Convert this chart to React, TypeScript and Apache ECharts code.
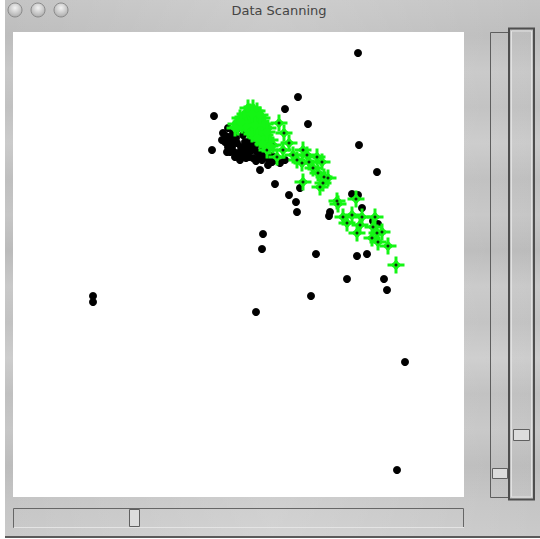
import React, { useEffect, useRef } from "react";
import * as echarts from "echarts";

const PLOT_LEFT = 13;
const PLOT_TOP = 32;
const PLOT_W = 451;
const PLOT_H = 465;

// black points (screen px)
const blackPointsPx: number[][] = [
  [358, 53], [298, 97], [285, 109], [214, 116], [308, 124], [212, 150], [359, 145], [377, 172],
  [223, 133], [225, 142], [230, 137], [233, 132], [222, 140], [227, 152], [232, 147], [237, 143],
  [240, 152], [235, 157], [243, 157], [248, 153], [247, 147], [252, 150], [253, 158], [260, 170],
  [263, 153], [267, 158], [272, 162], [262, 160], [268, 165], [280, 163], [285, 160], [230, 152],
  [246, 158], [240, 160], [256, 161], [238, 128], [243, 135], [250, 140], [256, 145], [228, 128],
  [226, 136], [231, 142], [236, 138], [241, 147], [245, 142], [251, 145], [257, 152], [244, 151],
  [228, 147], [234, 152], [239, 156], [249, 157], [259, 157], [263, 147], [272, 156], [276, 160],
  [275, 184], [289, 195], [296, 202], [297, 212], [300, 188],
  [263, 234], [262, 249], [316, 254], [330, 212], [329, 216], [352, 194], [358, 195], [362, 208],
  [373, 221], [378, 224], [357, 256], [367, 254], [347, 279], [384, 279], [387, 290], [311, 296],
  [256, 312], [93, 296], [93, 302], [405, 362], [397, 470],
];

// dense green cluster (screen px)
const greenBlobPx: number[][] = [
  [240, 118], [245, 114], [250, 112], [253, 108], [256, 116], [250, 122], [242, 125], [258, 122],
  [262, 128], [255, 130], [248, 130], [236, 124], [265, 135], [260, 140], [270, 140], [247, 119],
  [262, 118], [268, 128], [244, 121], [252, 126], [259, 134], [254, 119], [238, 127], [265, 124],
  [250, 116], [257, 111], [246, 126], [252, 134], [263, 144], [241, 122], [255, 125], [260, 115],
  [248, 108], [267, 132], [257, 138], [235, 128], [252, 114], [270, 146],
];

// spread green points (screen px)
const greenSpreadPx: number[][] = [
  [279, 123], [284, 133], [289, 143], [273, 145], [267, 150], [277, 157], [303, 150], [307, 155],
  [297, 160], [302, 163], [317, 157], [313, 168], [318, 173], [324, 177], [303, 182], [320, 187],
  [328, 178], [322, 162], [337, 201], [338, 204], [356, 199], [343, 217], [352, 215], [362, 217],
  [357, 233], [347, 223], [373, 227], [377, 233], [382, 232], [372, 238], [378, 242], [388, 246],
  [396, 265], [323, 183], [360, 225], [375, 217], [283, 150], [293, 155], [309, 162],
];

const toData = (p: number[]) => [p[0] - PLOT_LEFT, PLOT_TOP + PLOT_H - p[1]];
const blackData = blackPointsPx.map(toData);
const greenBlobData = greenBlobPx.map(toData);
const greenSpreadData = greenSpreadPx.map(toData);

const STAR =
  "path://M-1.4,-8H1.4V-4L4,0L1.4,4V8H-1.4V4L-4,0L-1.4,-4ZM-8,-1.4H-4L0,-4L4,-1.4H8V1.4H4L0,4L-4,1.4H-8Z";

const metalShades = [
  "#c4c4c4", "#bdbdbd", "#c8c8c8", "#c1c1c1", "#cbcbcb", "#bfbfbf", "#c6c6c6", "#bbbbbb",
  "#c9c9c9", "#c2c2c2", "#cdcdcd", "#c0c0c0", "#c7c7c7", "#bcbcbc", "#c5c5c5", "#cacaca",
];

export default function App() {
  const ref = useRef<HTMLDivElement>(null);
  useEffect(() => {
    if (!ref.current) return;
    const chart = echarts.init(ref.current, null, { renderer: "svg" });
    const stops = metalShades.map((c, i) => ({ offset: i / (metalShades.length - 1), color: c }));
    const metal = new echarts.graphic.LinearGradient(0, 0, 0, 1, stops);
    const metalH = new echarts.graphic.LinearGradient(0, 0, 1, 0, [
      { offset: 0, color: "rgba(255,255,255,0)" },
      { offset: 0.5, color: "rgba(255,255,255,0.18)" },
      { offset: 1, color: "rgba(255,255,255,0)" },
    ]);
    const btn = (cx: number) => ({
      type: "circle",
      shape: { cx, cy: 10, r: 7 },
      style: {
        fill: new echarts.graphic.RadialGradient(0.5, 0.35, 0.7, [
          { offset: 0, color: "#f2f2f2" },
          { offset: 1, color: "#a8a8a8" },
        ]),
        stroke: "#8a8a8a",
        lineWidth: 1,
      },
    });
    const greenStyle = { color: "#14f514", opacity: 1 };
    chart.setOption({
      animation: false,
      graphic: [
        { type: "rect", shape: { x: 5, y: 0, width: 535, height: 537 }, style: { fill: metal }, z: -10 },
        { type: "rect", shape: { x: 5, y: 0, width: 535, height: 537 }, style: { fill: metalH }, z: -9 },
        { type: "line", shape: { x1: 5, y1: 537, x2: 540, y2: 537 }, style: { stroke: "#5a5a5a", lineWidth: 2 }, z: -8 },
        btn(15), btn(38), btn(61),
        {
          type: "text",
          x: 279,
          y: 10,
          style: {
            text: "Data Scanning",
            fill: "#444444",
            font: "13px 'DejaVu Sans', sans-serif",
            align: "center",
            verticalAlign: "middle",
          },
        },
        { type: "rect", shape: { x: PLOT_LEFT, y: PLOT_TOP, width: PLOT_W, height: PLOT_H }, style: { fill: "#ffffff" }, z: -5 },
        { type: "rect", shape: { x: 490.5, y: 32.5, width: 18, height: 465 }, style: { fill: "none", stroke: "#5e5e5e", lineWidth: 1 } },
        { type: "rect", shape: { x: 509, y: 28.5, width: 25, height: 471 }, style: { fill: "none", stroke: "#4e4e4e", lineWidth: 2 } },
        { type: "rect", shape: { x: 511.5, y: 31, width: 20, height: 466 }, style: { fill: "none", stroke: "#e2e2e2", lineWidth: 1 } },
        { type: "rect", shape: { x: 492.5, y: 468.5, width: 15, height: 10 }, style: { fill: "#dcdcdc", stroke: "#606060", lineWidth: 1 } },
        { type: "rect", shape: { x: 513.5, y: 429.5, width: 16, height: 11 }, style: { fill: "#dcdcdc", stroke: "#606060", lineWidth: 1 } },
        { type: "rect", shape: { x: 13.5, y: 508.5, width: 450, height: 19 }, style: { fill: "none", stroke: "#666666", lineWidth: 1 } },
        { type: "line", shape: { x1: 14, y1: 527.5, x2: 464, y2: 527.5 }, style: { stroke: "#e4e4e4", lineWidth: 1 } },
        { type: "rect", shape: { x: 129.5, y: 509.5, width: 10, height: 17 }, style: { fill: "#dcdcdc", stroke: "#606060", lineWidth: 1 } },
      ],
      grid: { left: PLOT_LEFT, top: PLOT_TOP, width: PLOT_W, height: PLOT_H, show: false },
      xAxis: { type: "value", min: 0, max: PLOT_W, show: false },
      yAxis: { type: "value", min: 0, max: PLOT_H, show: false },
      series: [
        {
          type: "scatter",
          data: blackData,
          symbol: "circle",
          symbolSize: 8,
          itemStyle: { color: "#000000", opacity: 1 },
          z: 2,
        },
        {
          type: "scatter",
          data: greenSpreadData,
          symbol: STAR,
          symbolSize: 17,
          itemStyle: greenStyle,
          z: 3,
        },
        {
          type: "scatter",
          data: greenSpreadData,
          symbol: "circle",
          symbolSize: 3,
          itemStyle: { color: "#0b2e0b", opacity: 1 },
          z: 4,
        },
        {
          type: "scatter",
          data: greenBlobData,
          symbol: STAR,
          symbolSize: 17,
          itemStyle: greenStyle,
          z: 5,
        },
      ],
    });
    return () => chart.dispose();
  }, []);
  return (
    <div
      ref={ref}
      style={{ position: "fixed", left: 0, top: 0, width: 540, height: 539, background: "#ffffff" }}
    />
  );
}
